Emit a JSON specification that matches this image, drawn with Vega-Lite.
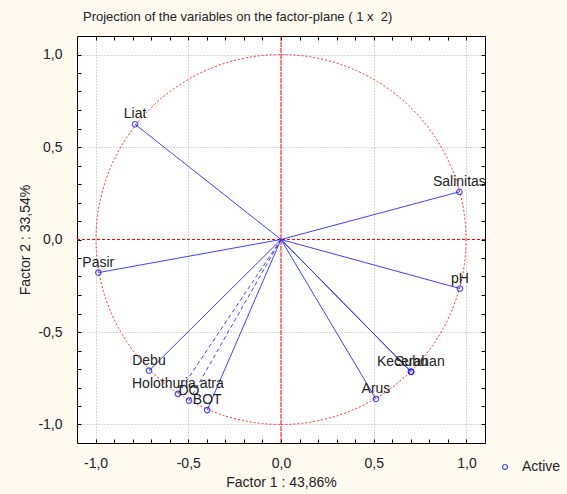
{
  "$schema": "https://vega.github.io/schema/vega-lite/v6.json",
  "width": 408,
  "height": 407,
  "autosize": "none",
  "padding": {"left": 77, "top": 36, "right": 82, "bottom": 51},
  "background": "#fefaf0",
  "title": {
    "text": "Projection of the variables on the factor-plane ( 1 x \u00a02)",
    "anchor": "start",
    "frame": "group",
    "dx": 6,
    "offset": 12,
    "fontSize": 13,
    "fontWeight": "normal",
    "font": "Liberation Sans",
    "color": "#222222"
  },
  "config": {
    "locale": {"number": {"decimal": ",", "thousands": ".", "grouping": [3], "currency": ["", ""], "minus": "-"}},
    "view": {"fill": "white", "stroke": "black", "strokeWidth": 1},
    "font": "Liberation Sans",
    "axis": {
      "labelFont": "Liberation Sans",
      "titleFont": "Liberation Sans",
      "labelFontSize": 14,
      "titleFontSize": 14,
      "titleFontWeight": "normal",
      "labelColor": "#222222",
      "titleColor": "#222222",
      "tickColor": "black",
      "domain": false
    },
    "legend": {"labelFont": "Liberation Sans", "labelFontSize": 14, "labelColor": "#222222"}
  },
  "datasets": {
    "vars": [
      {"variable": "Liat", "x": -0.787, "y": 0.623, "type": "Active"},
      {"variable": "Pasir", "x": -0.985, "y": -0.179, "type": "Active"},
      {"variable": "Salinitas", "x": 0.962, "y": 0.258, "type": "Active"},
      {"variable": "pH", "x": 0.965, "y": -0.265, "type": "Active"},
      {"variable": "Debu", "x": -0.712, "y": -0.709, "type": "Active"},
      {"variable": "Holothuria atra", "x": -0.556, "y": -0.834, "type": "Active"},
      {"variable": "DO", "x": -0.496, "y": -0.871, "type": "Active"},
      {"variable": "BOT", "x": -0.398, "y": -0.922, "type": "Active"},
      {"variable": "Kecerahan", "x": 0.700, "y": -0.714, "type": "Active"},
      {"variable": "Suhu", "x": 0.703, "y": -0.716, "type": "Active"},
      {"variable": "Arus", "x": 0.512, "y": -0.862, "type": "Active"}
    ],
    "origin": [{"cx": 0, "cy": 0}]
  },
  "resolve": {"axis": {"x": "independent", "y": "independent"}},
  "layer": [
    {
      "data": {"name": "origin"},
      "mark": {"type": "point", "shape": "circle", "size": 136900, "filled": false, "stroke": "#ff0000", "strokeWidth": 1, "strokeDash": [2, 2], "opacity": 0.85},
      "encoding": {
        "x": {"field": "cx", "type": "quantitative", "scale": {"domain": [-1.1, 1.1], "nice": false, "zero": false},
              "axis": {"orient": "top", "labels": false, "grid": false, "title": null, "tickSize": -4,
                       "values": [-1, -0.9, -0.8, -0.7, -0.6, -0.5, -0.4, -0.3, -0.2, -0.1, 0, 0.1, 0.2, 0.3, 0.4, 0.5, 0.6, 0.7, 0.8, 0.9, 1]}},
        "y": {"field": "cy", "type": "quantitative", "scale": {"domain": [-1.1, 1.1], "nice": false, "zero": false},
              "axis": {"orient": "right", "labels": false, "grid": false, "title": null, "tickSize": -4,
                       "values": [-1, -0.9, -0.8, -0.7, -0.6, -0.5, -0.4, -0.3, -0.2, -0.1, 0, 0.1, 0.2, 0.3, 0.4, 0.5, 0.6, 0.7, 0.8, 0.9, 1]}}
      }
    },
    {
      "data": {"name": "origin"},
      "mark": {"type": "rule", "stroke": "#ff0000", "strokeWidth": 1, "strokeDash": [3, 2]},
      "encoding": {"y": {"field": "cy", "type": "quantitative", "axis": null}}
    },
    {
      "data": {"name": "origin"},
      "mark": {"type": "rule", "stroke": "#ff0000", "strokeWidth": 1, "strokeDash": [5, 1]},
      "encoding": {"x": {"field": "cx", "type": "quantitative", "axis": null}}
    },
    {
      "data": {"name": "vars"},
      "transform": [{"filter": {"not": {"field": "variable", "oneOf": ["Holothuria atra", "DO"]}}}],
      "mark": {"type": "rule", "stroke": "#2a2aff", "strokeWidth": 1, "opacity": 0.9},
      "encoding": {
        "x": {"field": "x", "type": "quantitative",
              "axis": {"orient": "bottom", "title": "Factor 1 : 43,86%", "tickSize": -4, "labelPadding": 17, "titlePadding": 5,
                       "format": ".1f",
                       "values": [-1, -0.9, -0.8, -0.7, -0.6, -0.5, -0.4, -0.3, -0.2, -0.1, 0, 0.1, 0.2, 0.3, 0.4, 0.5, 0.6, 0.7, 0.8, 0.9, 1],
                       "labelExpr": "abs(datum.value*2 - round(datum.value*2)) < 0.001 ? datum.label : ''",
                       "grid": true, "gridColor": "#b0b0b0", "gridDash": [1, 2],
                       "gridOpacity": {"condition": {"test": "abs(datum.value*2 - round(datum.value*2)) < 0.001 && abs(datum.value) > 0.01", "value": 1}, "value": 0}}},
        "y": {"field": "y", "type": "quantitative",
              "axis": {"orient": "left", "title": "Factor 2 : 33,54%", "tickSize": -4, "labelPadding": 19, "titlePadding": 5,
                       "format": ".1f",
                       "values": [-1, -0.9, -0.8, -0.7, -0.6, -0.5, -0.4, -0.3, -0.2, -0.1, 0, 0.1, 0.2, 0.3, 0.4, 0.5, 0.6, 0.7, 0.8, 0.9, 1],
                       "labelExpr": "abs(datum.value*2 - round(datum.value*2)) < 0.001 ? datum.label : ''",
                       "grid": true, "gridColor": "#b0b0b0", "gridDash": [1, 2],
                       "gridOpacity": {"condition": {"test": "abs(datum.value*2 - round(datum.value*2)) < 0.001 && abs(datum.value) > 0.01", "value": 1}, "value": 0}}},
        "x2": {"datum": 0},
        "y2": {"datum": 0}
      }
    },
    {
      "data": {"name": "vars"},
      "transform": [{"filter": {"field": "variable", "oneOf": ["Holothuria atra", "DO"]}}],
      "mark": {"type": "rule", "stroke": "#2a2aff", "strokeWidth": 1, "opacity": 0.9, "strokeDash": [4, 3]},
      "encoding": {
        "x": {"field": "x", "type": "quantitative", "axis": null},
        "y": {"field": "y", "type": "quantitative", "axis": null},
        "x2": {"datum": 0},
        "y2": {"datum": 0}
      }
    },
    {
      "data": {"name": "vars"},
      "mark": {"type": "point", "shape": "circle", "size": 30, "filled": false, "strokeWidth": 1.2},
      "encoding": {
        "x": {"field": "x", "type": "quantitative", "axis": null},
        "y": {"field": "y", "type": "quantitative", "axis": null},
        "color": {"field": "type", "type": "nominal", "scale": {"range": ["#0000ff"]},
                  "legend": {"title": null, "orient": "none", "legendX": 421, "legendY": 424, "padding": 0, "symbolSize": 25, "symbolStrokeWidth": 1.2, "labelOffset": 10}}
      }
    },
    {
      "data": {"name": "vars"},
      "mark": {"type": "text", "dy": -10, "fontSize": 14, "font": "Liberation Sans", "color": "#222222", "clip": true, "align": "center", "baseline": "middle"},
      "encoding": {
        "x": {"field": "x", "type": "quantitative", "axis": null},
        "y": {"field": "y", "type": "quantitative", "axis": null},
        "text": {"field": "variable"}
      }
    }
  ]
}
